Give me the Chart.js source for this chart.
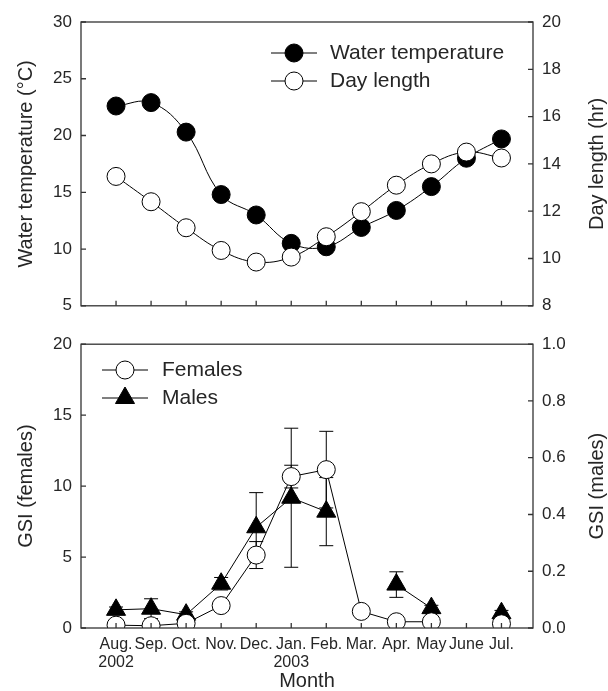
<!DOCTYPE html>
<html>
<head>
<meta charset="utf-8">
<script src="https://cdn.jsdelivr.net/npm/chart.js@4.4.0/dist/chart.umd.min.js"></script>
<style>
  body { margin: 0; background: #fff; }
  .panel { position: absolute; left: 0; width: 608px; }
</style>
</head>
<body>
<div class="panel" style="top:0;height:325px"><canvas id="tempChart"></canvas></div>
<div class="panel" style="top:325px;height:366px"><canvas id="gsiChart"></canvas></div>
<script>
// months Aug 2002 - Jul 2003
const months = ['Aug.', 'Sep.', 'Oct.', 'Nov.', 'Dec.', 'Jan.', 'Feb.', 'Mar.', 'Apr.', 'May', 'June', 'Jul.'];
const years = ['2002', '', '', '', '', '2003', '', '', '', '', '', ''];

const waterTemp = [22.6, 22.9, 20.3, 14.8, 13.0, 10.5, 10.2, 11.9, 13.4, 15.5, 18.0, 19.7];
const dayLength = [13.47, 12.4, 11.3, 10.34, 9.85, 10.06, 10.92, 11.98, 13.1, 14.0, 14.5, 14.25];

const gsiFemales = [0.2, 0.16, 0.33, 1.58, 5.14, 10.67, 11.16, 1.17, 0.44, 0.44, null, 0.3];
const gsiFemalesErr = [0.1, 0.1, 0.1, 0.3, 0.95, 0.8, 2.7, 0.1, 0.1, 0.1, null, 0.1];
const gsiMales = [0.064, 0.068, 0.047, 0.156, 0.355, 0.459, 0.41, null, 0.153, 0.07, null, 0.052];
const gsiMalesErr = [0.01, 0.035, 0.01, 0.022, 0.122, 0.245, 0.12, null, 0.045, 0.01, null, 0.01];

const FONT = 'Arial, "Liberation Sans", sans-serif';
const INK = '#262626';

function points(values) {
    return months.map((m, i) => ({ x: i, y: values[i] }));
}

// box round the plot area, ticks pointing inwards
const frameTicks = {
    id: 'frameTicks',
    afterDraw(chart) {
        const { ctx, chartArea: a, scales } = chart;
        ctx.save();
        ctx.strokeStyle = '#333';
        ctx.lineWidth = 1.3;
        ctx.strokeRect(a.left, a.top, a.width, a.height);
        ctx.beginPath();
        months.forEach((m, i) => {
            const x = scales.x.getPixelForValue(i);
            ctx.moveTo(x, a.bottom);
            ctx.lineTo(x, a.bottom - 5);
        });
        scales.yL.ticks.forEach(t => {
            const y = scales.yL.getPixelForValue(t.value);
            ctx.moveTo(a.left, y);
            ctx.lineTo(a.left + 5, y);
        });
        scales.yR.ticks.forEach(t => {
            const y = scales.yR.getPixelForValue(t.value);
            ctx.moveTo(a.right, y);
            ctx.lineTo(a.right - 5, y);
        });
        ctx.stroke();
        ctx.restore();
    }
};

// right hand axis title, reading bottom to top
const rightTitle = {
    id: 'rightTitle',
    afterDraw(chart, args, opts) {
        const { ctx, chartArea: a } = chart;
        ctx.save();
        ctx.translate(opts.x, (a.top + a.bottom) / 2);
        ctx.rotate(-Math.PI / 2);
        ctx.fillStyle = INK;
        ctx.font = '20px ' + FONT;
        ctx.textAlign = 'center';
        ctx.textBaseline = 'middle';
        ctx.fillText(opts.text, 0, 0);
        ctx.restore();
    }
};

const errorBars = {
    id: 'errorBars',
    beforeDatasetsDraw(chart) {
        const ctx = chart.ctx;
        chart.data.datasets.forEach(ds => {
            if (!ds.errors) return;
            const xs = chart.scales.x;
            const ys = chart.scales[ds.yAxisID];
            ctx.save();
            ctx.strokeStyle = '#000';
            ctx.lineWidth = 1;
            ctx.beginPath();
            ds.data.forEach((p, j) => {
                const e = ds.errors[j];
                if (p.y == null || !e) return;
                const x = xs.getPixelForValue(p.x);
                const lo = ys.getPixelForValue(p.y - e);
                const hi = ys.getPixelForValue(p.y + e);
                ctx.moveTo(x, lo); ctx.lineTo(x, hi);
                ctx.moveTo(x - 7, lo); ctx.lineTo(x + 7, lo);
                ctx.moveTo(x - 7, hi); ctx.lineTo(x + 7, hi);
            });
            ctx.stroke();
            ctx.restore();
        });
    }
};

const pointLegend = {
    id: 'pointLegend',
    afterDraw(chart, args, opts) {
        const ctx = chart.ctx;
        opts.items.forEach((idx, k) => {
            const ds = chart.data.datasets[idx];
            const y = opts.y + k * opts.rowGap;
            ctx.save();
            ctx.strokeStyle = '#000';
            ctx.lineWidth = 1;
            ctx.beginPath();
            ctx.moveTo(opts.x0, y);
            ctx.lineTo(opts.x1, y);
            ctx.stroke();
            ctx.fillStyle = ds.pointBackgroundColor;
            ctx.strokeStyle = ds.pointBorderColor;
            Chart.helpers.drawPoint(ctx, {
                pointStyle: ds.pointStyle || 'circle',
                radius: ds.pointRadius,
                rotation: 0,
                borderWidth: 1
            }, (opts.x0 + opts.x1) / 2, y);
            ctx.fillStyle = INK;
            ctx.font = '21px ' + FONT;
            ctx.textAlign = 'left';
            ctx.textBaseline = 'middle';
            ctx.fillText(ds.label, opts.textX, y);
            ctx.restore();
        });
    }
};

function yAxis(position, min, max, step, title, fmt) {
    const axis = {
        type: 'linear',
        position: position,
        min: min,
        max: max,
        grid: { display: false, drawTicks: false },
        border: { display: false },
        ticks: {
            stepSize: step,
            padding: 9,
            color: INK,
            font: { family: FONT, size: 17 },
            callback: fmt || (v => v)
        },
        afterFit: s => { s.width = position === 'left' ? 81 : 75; }
    };
    if (title) {
        axis.title = {
            display: true,
            text: title,
            color: INK,
            font: { family: FONT, size: 20 },
            padding: { top: 14, bottom: 0 }
        };
    }
    return axis;
}

new Chart(document.getElementById('tempChart'), {
    type: 'line',
    data: {
        datasets: [{
            label: 'Water temperature',
            data: points(waterTemp),
            yAxisID: 'yL',
            borderColor: '#000',
            borderWidth: 1,
            tension: 0.4,
            pointRadius: 9,
            pointBackgroundColor: '#000',
            pointBorderColor: '#000',
            pointBorderWidth: 1,
            order: 1
        }, {
            label: 'Day length',
            data: points(dayLength),
            yAxisID: 'yR',
            borderColor: '#000',
            borderWidth: 1,
            tension: 0.4,
            pointRadius: 9,
            pointBackgroundColor: '#fff',
            pointBorderColor: '#000',
            pointBorderWidth: 1,
            order: 0
        }]
    },
    options: {
        responsive: true,
        maintainAspectRatio: false,
        animation: false,
        layout: { padding: { top: 22, bottom: 13, left: 0, right: 0 } },
        scales: {
            x: { type: 'linear', display: false, min: -1, max: 11.9 },
            yL: yAxis('left', 5, 30, 5, 'Water temperature (°C)'),
            yR: yAxis('right', 8, 20, 2)
        },
        plugins: {
            legend: { display: false },
            tooltip: { enabled: false },
            rightTitle: { text: 'Day length (hr)', x: 597 },
            pointLegend: { items: [0, 1], x0: 271, x1: 317, textX: 330, y: 53, rowGap: 28 }
        }
    },
    plugins: [frameTicks, rightTitle, pointLegend]
});

new Chart(document.getElementById('gsiChart'), {
    type: 'line',
    data: {
        datasets: [{
            label: 'Females',
            data: points(gsiFemales),
            errors: gsiFemalesErr,
            yAxisID: 'yL',
            borderColor: '#000',
            borderWidth: 1,
            pointRadius: 9,
            pointBackgroundColor: '#fff',
            pointBorderColor: '#000',
            pointBorderWidth: 1,
            order: 0
        }, {
            label: 'Males',
            data: points(gsiMales),
            errors: gsiMalesErr,
            yAxisID: 'yR',
            borderColor: '#000',
            borderWidth: 1,
            pointStyle: 'triangle',
            pointRadius: 11,
            pointBackgroundColor: '#000',
            pointBorderColor: '#000',
            pointBorderWidth: 1,
            order: 1
        }]
    },
    options: {
        responsive: true,
        maintainAspectRatio: false,
        animation: false,
        layout: { padding: { top: 12, bottom: 0, left: 0, right: 0 } },
        scales: {
            x: {
                type: 'linear',
                min: -1,
                max: 11.9,
                grid: { display: false, drawTicks: false },
                border: { display: false },
                afterBuildTicks: s => { s.ticks = months.map((m, i) => ({ value: i })); },
                afterFit: s => { s.height = 63; },
                ticks: {
                    autoSkip: false,
                    maxRotation: 0,
                    padding: 8,
                    color: INK,
                    font: { family: FONT, size: 16, lineHeight: 1.125 },
                    callback: v => [months[v], years[v]]
                },
                title: {
                    display: true,
                    text: 'Month',
                    color: INK,
                    font: { family: FONT, size: 20, lineHeight: 1 },
                    padding: 0
                }
            },
            yL: yAxis('left', 0, 20, 5, 'GSI (females)'),
            yR: yAxis('right', 0, 1, 0.2, null, v => v.toFixed(1))
        },
        plugins: {
            legend: { display: false },
            tooltip: { enabled: false },
            rightTitle: { text: 'GSI (males)', x: 597 },
            pointLegend: { items: [0, 1], x0: 102, x1: 148, textX: 162, y: 45, rowGap: 28 }
        }
    },
    plugins: [errorBars, frameTicks, rightTitle, pointLegend]
});
</script>
</body>
</html>
